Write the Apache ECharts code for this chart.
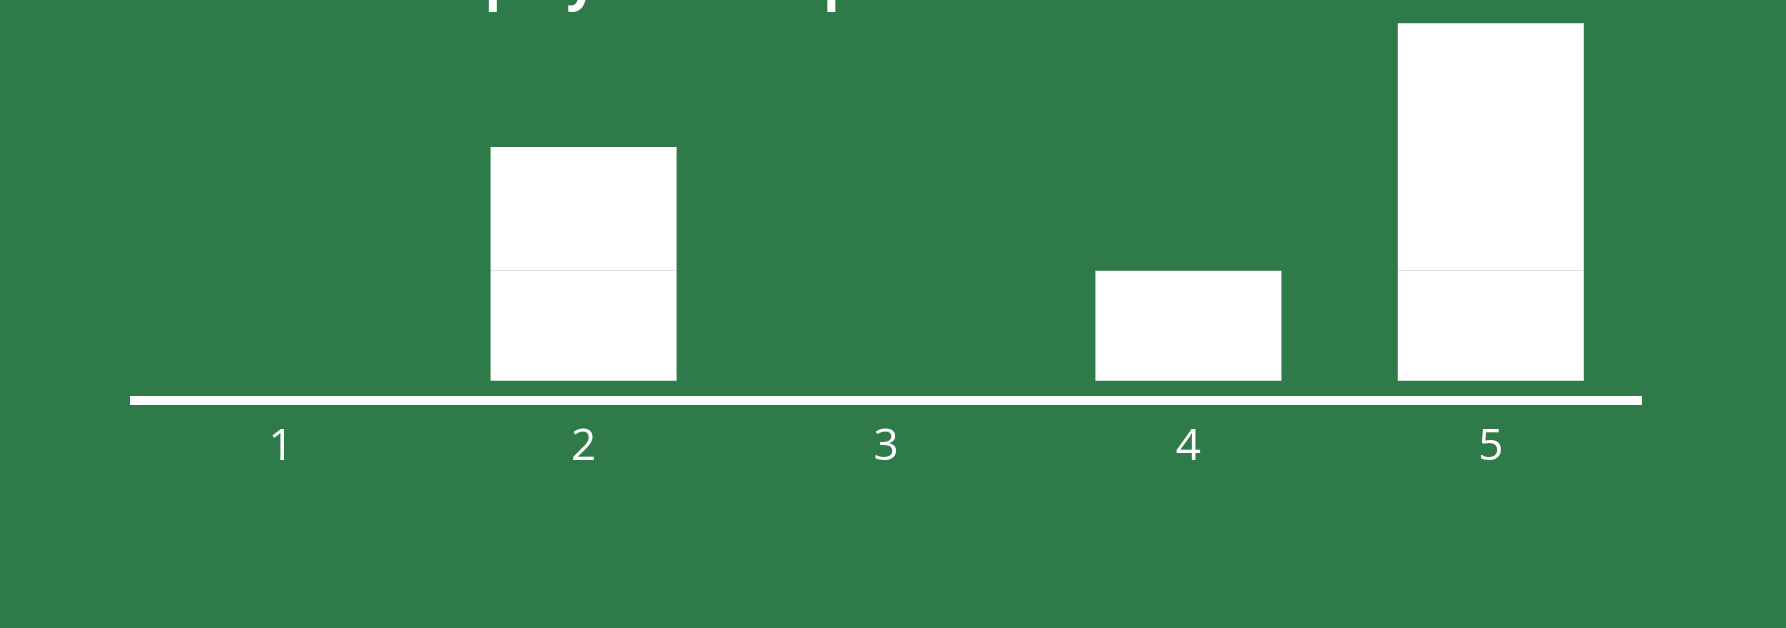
<!DOCTYPE html>
<html>
<head>
<meta charset="utf-8">
<script src="https://cdn.jsdelivr.net/npm/echarts@6/dist/echarts.min.js"></script>
<style>html,body{margin:0;padding:0;background:#2e7b49;}#c{width:1786px;height:628px;}</style>
</head>
<body>
<div id="c"></div>
<script>
var categories = ['1', '2', '3', '4', '5'];
var baseValues = [0, 8, 0, 8, 8];
var topValues = [0, 9, 0, 0, 18];
var titleText = 'Display All Groups';

var chart = echarts.init(document.getElementById('c'));
chart.setOption({
  backgroundColor: '#2e7b49',
  animation: false,
  title: {
    text: titleText,
    left: 398,
    top: -48,
    textStyle: { color: '#ffffff', fontFamily: 'Open Sans', fontWeight: 'bold', fontSize: 53 }
  },
  grid: { left: 130, right: 144, top: 23.3, bottom: 247.3, containLabel: false },
  xAxis: {
    type: 'category',
    data: categories,
    offset: 20,
    axisLine: { show: true, onZero: false, lineStyle: { color: '#ffffff', width: 9, cap: 'butt' } },
    axisTick: { show: false },
    axisLabel: { color: '#ffffff', fontFamily: 'Open Sans', fontSize: 44, margin: 25 }
  },
  yAxis: {
    type: 'value', min: 0, max: 26,
    show: false,
    splitLine: { show: false }
  },
  series: [
    { type: 'bar', stack: 's', data: baseValues, barWidth: 186, itemStyle: { color: '#ffffff' } },
    { type: 'bar', stack: 's', data: topValues, barWidth: 186, itemStyle: { color: '#ffffff' } }
  ]
});
</script>
</body>
</html>
